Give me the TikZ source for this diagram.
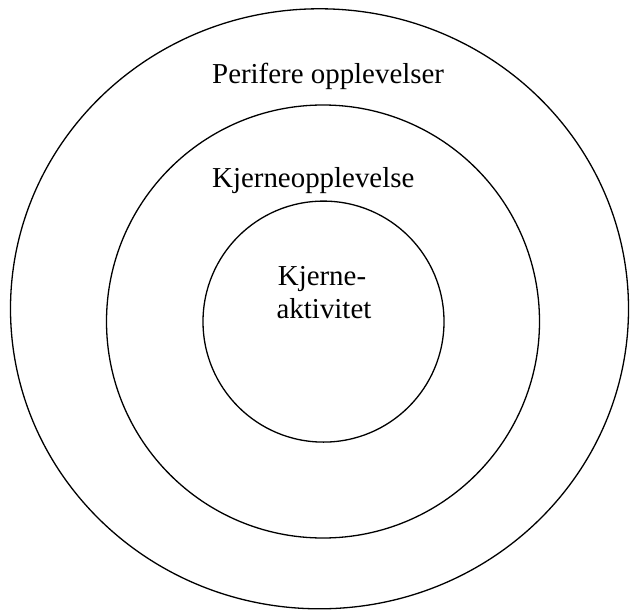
\documentclass[tikz,border=0pt]{standalone}
\usepackage{fontspec}
\setmainfont{Liberation Serif}
\begin{document}
\begin{tikzpicture}[x=1bp,y=-1bp,
  ring/.style={draw=black,line width=1.3bp},
  lbl/.style={inner sep=0pt,font=\fontsize{29}{33}\selectfont}]
\useasboundingbox (0,0) rectangle (630,610);
\draw[ring] (319.5,308.8) ellipse [x radius=309bp, y radius=300bp];
\draw[ring] (323,321.5) circle [radius=216.5bp];
\draw[ring] (323.5,321.6) circle [radius=120.5bp];
\node[lbl,anchor=base west] (per) at (212,83.5) {Perifere opplevelser};
\node[lbl,anchor=base west] (kjo) at (212,188) {Kjerneopplevelse};
\node[lbl,anchor=base] (ka1) at (322,285) {Kjerne-};
\node[lbl,anchor=base] (ka2) at (324,318) {aktivitet};
\end{tikzpicture}
\end{document}
